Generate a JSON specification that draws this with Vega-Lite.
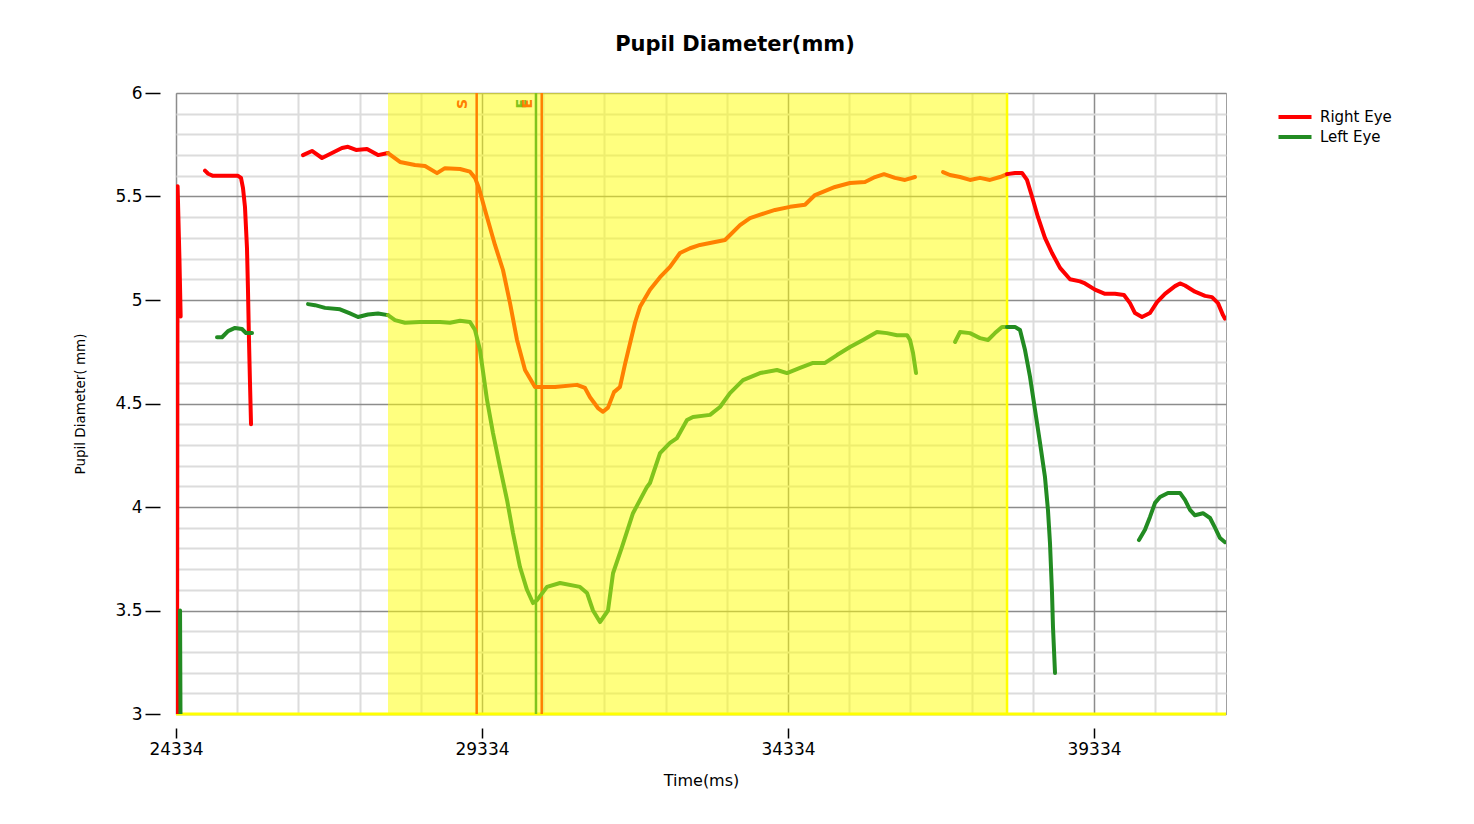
{
  "$schema": "https://vega.github.io/schema/vega-lite/v6.json",
  "width": 1050,
  "height": 621,
  "autosize": {"type": "none"},
  "padding": {"left": 176, "top": 93, "right": 248, "bottom": 110},
  "background": "white",
  "config": {"font": "DejaVu Sans", "view": {"stroke": "#a0a0a0", "strokeWidth": 1}},
  "title": {"text": "Pupil Diameter(mm)", "font": "DejaVu Sans", "fontSize": 21, "fontWeight": "bold", "color": "#000000", "offset": 29, "dx": 34},
  "datasets": {
    "band": [{"t": 27798, "t2": 37913}],
    "markers": [
      {"t": 29247, "label": "S", "series": "Right Eye (AOI)"},
      {"t": 30216, "label": "E", "series": "Left Eye (AOI)"},
      {"t": 30310, "label": "E", "series": "Right Eye (AOI)"}
    ],
    "eyes": [
      {"seg": "R1", "series": "Right Eye", "t": 24350, "v": 2.8},
      {"seg": "R1", "series": "Right Eye", "t": 24360, "v": 5.55},
      {"seg": "R1", "series": "Right Eye", "t": 24390, "v": 5.2},
      {"seg": "R1", "series": "Right Eye", "t": 24410, "v": 4.92},
      {"seg": "R2", "series": "Right Eye", "t": 24808, "v": 5.625},
      {"seg": "R2", "series": "Right Eye", "t": 24860, "v": 5.61},
      {"seg": "R2", "series": "Right Eye", "t": 24939, "v": 5.6},
      {"seg": "R2", "series": "Right Eye", "t": 25100, "v": 5.6},
      {"seg": "R2", "series": "Right Eye", "t": 25347, "v": 5.6},
      {"seg": "R2", "series": "Right Eye", "t": 25396, "v": 5.59},
      {"seg": "R2", "series": "Right Eye", "t": 25429, "v": 5.54},
      {"seg": "R2", "series": "Right Eye", "t": 25461, "v": 5.45},
      {"seg": "R2", "series": "Right Eye", "t": 25494, "v": 5.25},
      {"seg": "R2", "series": "Right Eye", "t": 25510, "v": 5.05},
      {"seg": "R2", "series": "Right Eye", "t": 25527, "v": 4.8},
      {"seg": "R2", "series": "Right Eye", "t": 25543, "v": 4.6},
      {"seg": "R2", "series": "Right Eye", "t": 25560, "v": 4.4},
      {"seg": "R3", "series": "Right Eye", "t": 26409, "v": 5.7},
      {"seg": "R3", "series": "Right Eye", "t": 26556, "v": 5.72},
      {"seg": "R3", "series": "Right Eye", "t": 26720, "v": 5.686},
      {"seg": "R3", "series": "Right Eye", "t": 26883, "v": 5.71},
      {"seg": "R3", "series": "Right Eye", "t": 27046, "v": 5.734},
      {"seg": "R3", "series": "Right Eye", "t": 27144, "v": 5.74},
      {"seg": "R3", "series": "Right Eye", "t": 27275, "v": 5.725},
      {"seg": "R3", "series": "Right Eye", "t": 27455, "v": 5.73},
      {"seg": "R3", "series": "Right Eye", "t": 27635, "v": 5.7},
      {"seg": "R3", "series": "Right Eye", "t": 27798, "v": 5.71},
      {"seg": "R4", "series": "Right Eye (AOI)", "t": 27798, "v": 5.71},
      {"seg": "R4", "series": "Right Eye (AOI)", "t": 27994, "v": 5.667},
      {"seg": "R4", "series": "Right Eye (AOI)", "t": 28239, "v": 5.652},
      {"seg": "R4", "series": "Right Eye (AOI)", "t": 28403, "v": 5.647},
      {"seg": "R4", "series": "Right Eye (AOI)", "t": 28599, "v": 5.613},
      {"seg": "R4", "series": "Right Eye (AOI)", "t": 28729, "v": 5.637},
      {"seg": "R4", "series": "Right Eye (AOI)", "t": 28975, "v": 5.633},
      {"seg": "R4", "series": "Right Eye (AOI)", "t": 29138, "v": 5.62},
      {"seg": "R4", "series": "Right Eye (AOI)", "t": 29220, "v": 5.59},
      {"seg": "R4", "series": "Right Eye (AOI)", "t": 29285, "v": 5.54},
      {"seg": "R4", "series": "Right Eye (AOI)", "t": 29383, "v": 5.435},
      {"seg": "R4", "series": "Right Eye (AOI)", "t": 29546, "v": 5.266},
      {"seg": "R4", "series": "Right Eye (AOI)", "t": 29677, "v": 5.145},
      {"seg": "R4", "series": "Right Eye (AOI)", "t": 29792, "v": 4.985},
      {"seg": "R4", "series": "Right Eye (AOI)", "t": 29906, "v": 4.807},
      {"seg": "R4", "series": "Right Eye (AOI)", "t": 30037, "v": 4.662},
      {"seg": "R4", "series": "Right Eye (AOI)", "t": 30200, "v": 4.58},
      {"seg": "R4", "series": "Right Eye (AOI)", "t": 30363, "v": 4.58},
      {"seg": "R4", "series": "Right Eye (AOI)", "t": 30527, "v": 4.58},
      {"seg": "R4", "series": "Right Eye (AOI)", "t": 30886, "v": 4.59},
      {"seg": "R4", "series": "Right Eye (AOI)", "t": 31017, "v": 4.575},
      {"seg": "R4", "series": "Right Eye (AOI)", "t": 31099, "v": 4.53},
      {"seg": "R4", "series": "Right Eye (AOI)", "t": 31229, "v": 4.478},
      {"seg": "R4", "series": "Right Eye (AOI)", "t": 31311, "v": 4.46},
      {"seg": "R4", "series": "Right Eye (AOI)", "t": 31393, "v": 4.48},
      {"seg": "R4", "series": "Right Eye (AOI)", "t": 31491, "v": 4.555},
      {"seg": "R4", "series": "Right Eye (AOI)", "t": 31589, "v": 4.58},
      {"seg": "R4", "series": "Right Eye (AOI)", "t": 31671, "v": 4.69},
      {"seg": "R4", "series": "Right Eye (AOI)", "t": 31752, "v": 4.79},
      {"seg": "R4", "series": "Right Eye (AOI)", "t": 31834, "v": 4.89},
      {"seg": "R4", "series": "Right Eye (AOI)", "t": 31916, "v": 4.967},
      {"seg": "R4", "series": "Right Eye (AOI)", "t": 32079, "v": 5.05},
      {"seg": "R4", "series": "Right Eye (AOI)", "t": 32243, "v": 5.11},
      {"seg": "R4", "series": "Right Eye (AOI)", "t": 32406, "v": 5.16},
      {"seg": "R4", "series": "Right Eye (AOI)", "t": 32569, "v": 5.227},
      {"seg": "R4", "series": "Right Eye (AOI)", "t": 32733, "v": 5.25},
      {"seg": "R4", "series": "Right Eye (AOI)", "t": 32896, "v": 5.266},
      {"seg": "R4", "series": "Right Eye (AOI)", "t": 33141, "v": 5.28},
      {"seg": "R4", "series": "Right Eye (AOI)", "t": 33305, "v": 5.29},
      {"seg": "R4", "series": "Right Eye (AOI)", "t": 33550, "v": 5.362},
      {"seg": "R4", "series": "Right Eye (AOI)", "t": 33713, "v": 5.396},
      {"seg": "R4", "series": "Right Eye (AOI)", "t": 33958, "v": 5.42},
      {"seg": "R4", "series": "Right Eye (AOI)", "t": 34122, "v": 5.435},
      {"seg": "R4", "series": "Right Eye (AOI)", "t": 34367, "v": 5.45},
      {"seg": "R4", "series": "Right Eye (AOI)", "t": 34612, "v": 5.46},
      {"seg": "R4", "series": "Right Eye (AOI)", "t": 34775, "v": 5.507},
      {"seg": "R4", "series": "Right Eye (AOI)", "t": 35102, "v": 5.546},
      {"seg": "R4", "series": "Right Eye (AOI)", "t": 35347, "v": 5.565},
      {"seg": "R4", "series": "Right Eye (AOI)", "t": 35592, "v": 5.57},
      {"seg": "R4", "series": "Right Eye (AOI)", "t": 35756, "v": 5.594},
      {"seg": "R4", "series": "Right Eye (AOI)", "t": 35903, "v": 5.608},
      {"seg": "R4", "series": "Right Eye (AOI)", "t": 36082, "v": 5.59},
      {"seg": "R4", "series": "Right Eye (AOI)", "t": 36246, "v": 5.58},
      {"seg": "R4", "series": "Right Eye (AOI)", "t": 36409, "v": 5.594},
      {"seg": "R5", "series": "Right Eye (AOI)", "t": 36867, "v": 5.618},
      {"seg": "R5", "series": "Right Eye (AOI)", "t": 36981, "v": 5.604},
      {"seg": "R5", "series": "Right Eye (AOI)", "t": 37145, "v": 5.594},
      {"seg": "R5", "series": "Right Eye (AOI)", "t": 37308, "v": 5.58},
      {"seg": "R5", "series": "Right Eye (AOI)", "t": 37471, "v": 5.59},
      {"seg": "R5", "series": "Right Eye (AOI)", "t": 37635, "v": 5.58},
      {"seg": "R5", "series": "Right Eye (AOI)", "t": 37798, "v": 5.594},
      {"seg": "R5", "series": "Right Eye (AOI)", "t": 37913, "v": 5.608},
      {"seg": "R6", "series": "Right Eye", "t": 37913, "v": 5.608},
      {"seg": "R6", "series": "Right Eye", "t": 38043, "v": 5.614},
      {"seg": "R6", "series": "Right Eye", "t": 38158, "v": 5.614},
      {"seg": "R6", "series": "Right Eye", "t": 38239, "v": 5.58},
      {"seg": "R6", "series": "Right Eye", "t": 38321, "v": 5.5},
      {"seg": "R6", "series": "Right Eye", "t": 38419, "v": 5.4},
      {"seg": "R6", "series": "Right Eye", "t": 38533, "v": 5.3},
      {"seg": "R6", "series": "Right Eye", "t": 38648, "v": 5.227},
      {"seg": "R6", "series": "Right Eye", "t": 38779, "v": 5.155},
      {"seg": "R6", "series": "Right Eye", "t": 38942, "v": 5.1},
      {"seg": "R6", "series": "Right Eye", "t": 39105, "v": 5.09},
      {"seg": "R6", "series": "Right Eye", "t": 39187, "v": 5.08},
      {"seg": "R6", "series": "Right Eye", "t": 39350, "v": 5.05},
      {"seg": "R6", "series": "Right Eye", "t": 39514, "v": 5.03},
      {"seg": "R6", "series": "Right Eye", "t": 39677, "v": 5.03},
      {"seg": "R6", "series": "Right Eye", "t": 39824, "v": 5.024},
      {"seg": "R6", "series": "Right Eye", "t": 39922, "v": 4.985},
      {"seg": "R6", "series": "Right Eye", "t": 40004, "v": 4.937},
      {"seg": "R6", "series": "Right Eye", "t": 40118, "v": 4.918},
      {"seg": "R6", "series": "Right Eye", "t": 40249, "v": 4.937},
      {"seg": "R6", "series": "Right Eye", "t": 40364, "v": 4.99},
      {"seg": "R6", "series": "Right Eye", "t": 40494, "v": 5.03},
      {"seg": "R6", "series": "Right Eye", "t": 40658, "v": 5.067},
      {"seg": "R6", "series": "Right Eye", "t": 40739, "v": 5.08},
      {"seg": "R6", "series": "Right Eye", "t": 40821, "v": 5.07},
      {"seg": "R6", "series": "Right Eye", "t": 40984, "v": 5.04},
      {"seg": "R6", "series": "Right Eye", "t": 41148, "v": 5.02},
      {"seg": "R6", "series": "Right Eye", "t": 41262, "v": 5.014},
      {"seg": "R6", "series": "Right Eye", "t": 41360, "v": 4.985},
      {"seg": "R6", "series": "Right Eye", "t": 41442, "v": 4.927},
      {"seg": "R6", "series": "Right Eye", "t": 41475, "v": 4.91},
      {"seg": "L1", "series": "Left Eye", "t": 24400, "v": 3.5},
      {"seg": "L1", "series": "Left Eye", "t": 24410, "v": 2.8},
      {"seg": "L2", "series": "Left Eye", "t": 25004, "v": 4.82},
      {"seg": "L2", "series": "Left Eye", "t": 25086, "v": 4.82},
      {"seg": "L2", "series": "Left Eye", "t": 25184, "v": 4.85},
      {"seg": "L2", "series": "Left Eye", "t": 25298, "v": 4.865},
      {"seg": "L2", "series": "Left Eye", "t": 25412, "v": 4.86},
      {"seg": "L2", "series": "Left Eye", "t": 25478, "v": 4.84},
      {"seg": "L2", "series": "Left Eye", "t": 25576, "v": 4.84},
      {"seg": "L3", "series": "Left Eye", "t": 26491, "v": 4.98},
      {"seg": "L3", "series": "Left Eye", "t": 26605, "v": 4.975},
      {"seg": "L3", "series": "Left Eye", "t": 26769, "v": 4.962},
      {"seg": "L3", "series": "Left Eye", "t": 27014, "v": 4.955},
      {"seg": "L3", "series": "Left Eye", "t": 27177, "v": 4.935},
      {"seg": "L3", "series": "Left Eye", "t": 27308, "v": 4.918},
      {"seg": "L3", "series": "Left Eye", "t": 27471, "v": 4.93},
      {"seg": "L3", "series": "Left Eye", "t": 27635, "v": 4.935},
      {"seg": "L3", "series": "Left Eye", "t": 27798, "v": 4.927},
      {"seg": "L4", "series": "Left Eye (AOI)", "t": 27798, "v": 4.927},
      {"seg": "L4", "series": "Left Eye (AOI)", "t": 27912, "v": 4.903},
      {"seg": "L4", "series": "Left Eye (AOI)", "t": 28076, "v": 4.89},
      {"seg": "L4", "series": "Left Eye (AOI)", "t": 28321, "v": 4.894},
      {"seg": "L4", "series": "Left Eye (AOI)", "t": 28648, "v": 4.894},
      {"seg": "L4", "series": "Left Eye (AOI)", "t": 28811, "v": 4.89},
      {"seg": "L4", "series": "Left Eye (AOI)", "t": 28975, "v": 4.9},
      {"seg": "L4", "series": "Left Eye (AOI)", "t": 29138, "v": 4.894},
      {"seg": "L4", "series": "Left Eye (AOI)", "t": 29220, "v": 4.855},
      {"seg": "L4", "series": "Left Eye (AOI)", "t": 29301, "v": 4.758},
      {"seg": "L4", "series": "Left Eye (AOI)", "t": 29416, "v": 4.517},
      {"seg": "L4", "series": "Left Eye (AOI)", "t": 29514, "v": 4.357},
      {"seg": "L4", "series": "Left Eye (AOI)", "t": 29628, "v": 4.193},
      {"seg": "L4", "series": "Left Eye (AOI)", "t": 29743, "v": 4.034},
      {"seg": "L4", "series": "Left Eye (AOI)", "t": 29841, "v": 3.874},
      {"seg": "L4", "series": "Left Eye (AOI)", "t": 29955, "v": 3.71},
      {"seg": "L4", "series": "Left Eye (AOI)", "t": 30069, "v": 3.6},
      {"seg": "L4", "series": "Left Eye (AOI)", "t": 30167, "v": 3.536},
      {"seg": "L4", "series": "Left Eye (AOI)", "t": 30233, "v": 3.55},
      {"seg": "L4", "series": "Left Eye (AOI)", "t": 30396, "v": 3.614},
      {"seg": "L4", "series": "Left Eye (AOI)", "t": 30609, "v": 3.633},
      {"seg": "L4", "series": "Left Eye (AOI)", "t": 30935, "v": 3.614},
      {"seg": "L4", "series": "Left Eye (AOI)", "t": 31050, "v": 3.585},
      {"seg": "L4", "series": "Left Eye (AOI)", "t": 31148, "v": 3.5},
      {"seg": "L4", "series": "Left Eye (AOI)", "t": 31262, "v": 3.444},
      {"seg": "L4", "series": "Left Eye (AOI)", "t": 31393, "v": 3.5},
      {"seg": "L4", "series": "Left Eye (AOI)", "t": 31475, "v": 3.68},
      {"seg": "L4", "series": "Left Eye (AOI)", "t": 31622, "v": 3.807},
      {"seg": "L4", "series": "Left Eye (AOI)", "t": 31801, "v": 3.97},
      {"seg": "L4", "series": "Left Eye (AOI)", "t": 32030, "v": 4.097},
      {"seg": "L4", "series": "Left Eye (AOI)", "t": 32079, "v": 4.116},
      {"seg": "L4", "series": "Left Eye (AOI)", "t": 32243, "v": 4.26},
      {"seg": "L4", "series": "Left Eye (AOI)", "t": 32406, "v": 4.31},
      {"seg": "L4", "series": "Left Eye (AOI)", "t": 32520, "v": 4.333},
      {"seg": "L4", "series": "Left Eye (AOI)", "t": 32684, "v": 4.42},
      {"seg": "L4", "series": "Left Eye (AOI)", "t": 32782, "v": 4.435},
      {"seg": "L4", "series": "Left Eye (AOI)", "t": 33060, "v": 4.445},
      {"seg": "L4", "series": "Left Eye (AOI)", "t": 33223, "v": 4.483},
      {"seg": "L4", "series": "Left Eye (AOI)", "t": 33386, "v": 4.55},
      {"seg": "L4", "series": "Left Eye (AOI)", "t": 33599, "v": 4.613},
      {"seg": "L4", "series": "Left Eye (AOI)", "t": 33877, "v": 4.647},
      {"seg": "L4", "series": "Left Eye (AOI)", "t": 34154, "v": 4.662},
      {"seg": "L4", "series": "Left Eye (AOI)", "t": 34318, "v": 4.647},
      {"seg": "L4", "series": "Left Eye (AOI)", "t": 34530, "v": 4.672},
      {"seg": "L4", "series": "Left Eye (AOI)", "t": 34743, "v": 4.696},
      {"seg": "L4", "series": "Left Eye (AOI)", "t": 34939, "v": 4.696},
      {"seg": "L4", "series": "Left Eye (AOI)", "t": 35135, "v": 4.734},
      {"seg": "L4", "series": "Left Eye (AOI)", "t": 35347, "v": 4.773},
      {"seg": "L4", "series": "Left Eye (AOI)", "t": 35560, "v": 4.807},
      {"seg": "L4", "series": "Left Eye (AOI)", "t": 35788, "v": 4.845},
      {"seg": "L4", "series": "Left Eye (AOI)", "t": 35952, "v": 4.84},
      {"seg": "L4", "series": "Left Eye (AOI)", "t": 36115, "v": 4.83},
      {"seg": "L4", "series": "Left Eye (AOI)", "t": 36279, "v": 4.83},
      {"seg": "L4", "series": "Left Eye (AOI)", "t": 36328, "v": 4.807},
      {"seg": "L4", "series": "Left Eye (AOI)", "t": 36377, "v": 4.744},
      {"seg": "L4", "series": "Left Eye (AOI)", "t": 36426, "v": 4.647},
      {"seg": "L5", "series": "Left Eye (AOI)", "t": 37063, "v": 4.797},
      {"seg": "L5", "series": "Left Eye (AOI)", "t": 37145, "v": 4.845},
      {"seg": "L5", "series": "Left Eye (AOI)", "t": 37308, "v": 4.84},
      {"seg": "L5", "series": "Left Eye (AOI)", "t": 37471, "v": 4.816},
      {"seg": "L5", "series": "Left Eye (AOI)", "t": 37602, "v": 4.807},
      {"seg": "L5", "series": "Left Eye (AOI)", "t": 37716, "v": 4.84},
      {"seg": "L5", "series": "Left Eye (AOI)", "t": 37831, "v": 4.87},
      {"seg": "L5", "series": "Left Eye (AOI)", "t": 37913, "v": 4.87},
      {"seg": "L6", "series": "Left Eye", "t": 37913, "v": 4.87},
      {"seg": "L6", "series": "Left Eye", "t": 38043, "v": 4.87},
      {"seg": "L6", "series": "Left Eye", "t": 38125, "v": 4.855},
      {"seg": "L6", "series": "Left Eye", "t": 38207, "v": 4.758},
      {"seg": "L6", "series": "Left Eye", "t": 38288, "v": 4.63},
      {"seg": "L6", "series": "Left Eye", "t": 38370, "v": 4.47},
      {"seg": "L6", "series": "Left Eye", "t": 38452, "v": 4.31},
      {"seg": "L6", "series": "Left Eye", "t": 38533, "v": 4.145},
      {"seg": "L6", "series": "Left Eye", "t": 38582, "v": 3.985},
      {"seg": "L6", "series": "Left Eye", "t": 38615, "v": 3.826},
      {"seg": "L6", "series": "Left Eye", "t": 38648, "v": 3.585},
      {"seg": "L6", "series": "Left Eye", "t": 38664, "v": 3.42},
      {"seg": "L6", "series": "Left Eye", "t": 38697, "v": 3.198},
      {"seg": "L7", "series": "Left Eye", "t": 40069, "v": 3.84},
      {"seg": "L7", "series": "Left Eye", "t": 40167, "v": 3.89},
      {"seg": "L7", "series": "Left Eye", "t": 40249, "v": 3.952},
      {"seg": "L7", "series": "Left Eye", "t": 40331, "v": 4.02},
      {"seg": "L7", "series": "Left Eye", "t": 40413, "v": 4.048},
      {"seg": "L7", "series": "Left Eye", "t": 40543, "v": 4.068},
      {"seg": "L7", "series": "Left Eye", "t": 40739, "v": 4.068},
      {"seg": "L7", "series": "Left Eye", "t": 40821, "v": 4.034},
      {"seg": "L7", "series": "Left Eye", "t": 40903, "v": 3.986},
      {"seg": "L7", "series": "Left Eye", "t": 40984, "v": 3.96},
      {"seg": "L7", "series": "Left Eye", "t": 41115, "v": 3.97},
      {"seg": "L7", "series": "Left Eye", "t": 41230, "v": 3.947},
      {"seg": "L7", "series": "Left Eye", "t": 41311, "v": 3.9},
      {"seg": "L7", "series": "Left Eye", "t": 41393, "v": 3.85},
      {"seg": "L7", "series": "Left Eye", "t": 41475, "v": 3.83}
    ]
  },
  "layer": [
    {
      "data": {"name": "band"},
      "mark": {"type": "rect", "color": "#FFFF00", "opacity": 0.5},
      "encoding": {
        "x": {"field": "t", "type": "quantitative", "title": "Time(ms)", "scale": {"domain": [24334, 41491], "zero": false, "nice": false}},
        "x2": {"field": "t2"}
      }
    },
    {
      "data": {"name": "band"},
      "mark": {"type": "rule", "color": "#FFFF00", "strokeWidth": 2.5},
      "encoding": {
        "x": {"field": "t2", "type": "quantitative", "title": "Time(ms)", "scale": {"domain": [24334, 41491], "zero": false, "nice": false}}
      }
    },
    {
      "data": {"values": [{"v": 3}]},
      "mark": {"type": "rule", "color": "#FFFF00", "strokeWidth": 3},
      "encoding": {
        "y": {"field": "v", "type": "quantitative", "title": "Pupil Diameter( mm)", "scale": {"domain": [3, 6], "zero": false, "nice": false}}
      }
    },
    {
      "data": {"name": "markers"},
      "mark": {"type": "rule", "strokeWidth": 2.5},
      "encoding": {
        "x": {"field": "t", "type": "quantitative", "title": "Time(ms)", "scale": {"domain": [24334, 41491], "zero": false, "nice": false}},
        "color": {"field": "series", "type": "nominal"}
      }
    },
    {
      "data": {"name": "markers"},
      "mark": {"type": "text", "angle": 270, "align": "right", "baseline": "alphabetic", "dx": -6, "dy": -10, "fontSize": 14, "fontWeight": "bold"},
      "encoding": {
        "x": {"field": "t", "type": "quantitative", "title": "Time(ms)", "scale": {"domain": [24334, 41491], "zero": false, "nice": false}},
        "y": {"datum": 6, "type": "quantitative", "title": "Pupil Diameter( mm)", "scale": {"domain": [3, 6], "zero": false, "nice": false}},
        "text": {"field": "label"},
        "color": {"field": "series", "type": "nominal"}
      }
    },
    {
      "data": {"name": "eyes"},
      "mark": {"type": "line", "strokeWidth": 4, "clip": true, "strokeJoin": "round", "strokeCap": "round"},
      "encoding": {
        "x": {
          "field": "t", "type": "quantitative", "title": "Time(ms)",
          "scale": {"domain": [24334, 41491], "zero": false, "nice": false},
          "axis": {
            "values": [24334, 25334, 26334, 27334, 28334, 29334, 30334, 31334, 32334, 33334, 34334, 35334, 36334, 37334, 38334, 39334, 40334, 41334],
            "tickCount": 100,
            "format": "d",
            "labelExpr": "(datum.value - 24334) % 5000 == 0 ? datum.label : ''",
            "labelOverlap": false,
            "offset": 14, "tickSize": 10, "domain": false,
            "tickColor": {"condition": {"test": "(datum.value - 24334) % 5000 == 0", "value": "#000000"}, "value": "transparent"},
            "tickWidth": 1.5,
            "gridColor": {"condition": {"test": "(datum.value - 24334) % 5000 == 0", "value": "#8c8c8c"}, "value": "#dcdcdc"},
            "gridWidth": {"condition": {"test": "(datum.value - 24334) % 5000 == 0", "value": 1.5}, "value": 2},
            "labelFont": "DejaVu Sans", "labelFontSize": 17, "labelColor": "#000000", "labelPadding": 3, "labelFlush": false,
            "titleFont": "DejaVu Sans", "titleFontSize": 16, "titleFontWeight": "normal", "titleColor": "#000000", "titlePadding": 15
          }
        },
        "y": {
          "field": "v", "type": "quantitative", "title": "Pupil Diameter( mm)",
          "scale": {"domain": [3, 6], "zero": false, "nice": false},
          "axis": {
            "values": [3, 3.1, 3.2, 3.3, 3.4, 3.5, 3.6, 3.7, 3.8, 3.9, 4, 4.1, 4.2, 4.3, 4.4, 4.5, 4.6, 4.7, 4.8, 4.9, 5, 5.1, 5.2, 5.3, 5.4, 5.5, 5.6, 5.7, 5.8, 5.9, 6],
            "tickCount": 100,
            "labelExpr": "indexof(['3','3.5','4','4.5','5','5.5','6'], '' + datum.value) >= 0 ? '' + datum.value : ''",
            "labelOverlap": false,
            "offset": 16, "tickSize": 15, "domain": false,
            "tickColor": {"condition": {"test": "indexof(['3','3.5','4','4.5','5','5.5','6'], '' + datum.value) >= 0", "value": "#000000"}, "value": "transparent"},
            "tickWidth": 1.5,
            "gridColor": {"condition": {"test": "indexof(['3','3.5','4','4.5','5','5.5','6'], '' + datum.value) >= 0", "value": "#8c8c8c"}, "value": "#dcdcdc"},
            "gridWidth": {"condition": {"test": "indexof(['3','3.5','4','4.5','5','5.5','6'], '' + datum.value) >= 0", "value": 1.5}, "value": 2},
            "labelFont": "DejaVu Sans", "labelFontSize": 17, "labelColor": "#000000", "labelPadding": 3, "labelFlush": false,
            "titleFont": "DejaVu Sans", "titleFontSize": 13.5, "titleFontWeight": "normal", "titleColor": "#000000", "titlePadding": 27
          }
        },
        "color": {
          "field": "series", "type": "nominal",
          "scale": {"domain": ["Right Eye", "Left Eye", "Right Eye (AOI)", "Left Eye (AOI)"], "range": ["#FF0000", "#228B22", "#FF8000", "#80C41C"]},
          "legend": {
            "values": ["Right Eye", "Left Eye"], "title": null, "orient": "none", "legendX": 1107, "legendY": 12,
            "symbolType": "M-1.65,0H1.65", "symbolSize": 400, "symbolStrokeWidth": 4,
            "labelFont": "DejaVu Sans", "labelFontSize": 15, "labelColor": "#000000", "labelOffset": 13, "rowPadding": 0
          }
        },
        "detail": {"field": "seg"},
        "order": {"field": "t", "type": "quantitative"}
      }
    }
  ]
}
